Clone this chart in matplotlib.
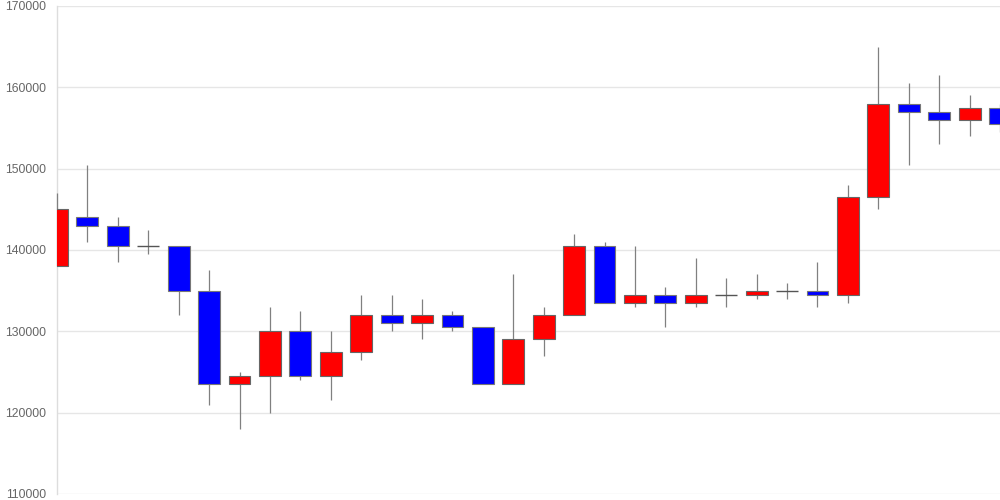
import matplotlib
matplotlib.use("Agg")
import matplotlib.pyplot as plt
import numpy as np

opens  = [138000, 144000, 143000, 140500, 140500, 135000, 123500, 124500, 130000, 124500,
          127500, 132000, 131000, 132000, 130500, 123500, 129000, 132000, 140500, 133500,
          134500, 133500, 134500, 134500, 135000, 135000, 134500, 146500, 158000, 157000,
          156000, 157500]
closes = [145000, 143000, 140500, 140500, 135000, 123500, 124500, 130000, 124500, 127500,
          132000, 131000, 132000, 130500, 123500, 129000, 132000, 140500, 133500, 134500,
          133500, 134500, 134500, 135000, 135000, 134500, 146500, 158000, 157000, 156000,
          157500, 155500]
highs  = [147000, 150500, 144000, 142500, 140500, 137500, 125000, 133000, 132500, 130000,
          134500, 134500, 134000, 132500, 130500, 137000, 133000, 142000, 141000, 140500,
          135500, 139000, 136500, 137000, 136000, 138500, 148000, 165000, 160500, 161500,
          159000, 158000]
lows   = [138000, 141000, 138500, 139500, 132000, 121000, 118000, 120000, 124000, 121500,
          126500, 130000, 129000, 130000, 123500, 123500, 127000, 132000, 133500, 133000,
          130500, 133000, 133000, 134000, 134000, 133000, 133500, 145000, 150500, 153000,
          154000, 154500]
yticks = [110000, 120000, 130000, 140000, 150000, 160000, 170000]

o = np.array(opens); c = np.array(closes); h = np.array(highs); l = np.array(lows)
x = np.arange(len(o))

fig = plt.figure(figsize=(10, 5), dpi=100)
ax = fig.add_axes([0.057, 0.012, 0.943, 0.976])

width = 0.72
ax.vlines(x, l, h, color="#808080", linewidth=0.9, zorder=2.6, clip_on=False)
up = c > o
down = c < o
flat = c == o
ax.bar(x[up], (c - o)[up], bottom=o[up], width=width, color="#ff0000",
       edgecolor="#666666", linewidth=0.8, zorder=3)
ax.bar(x[down], (o - c)[down], bottom=c[down], width=width, color="#0000ff",
       edgecolor="#777777", linewidth=0.8, zorder=3)
ax.hlines(o[flat], x[flat] - width / 2, x[flat] + width / 2, color="#555555",
          linewidth=1.0, zorder=3)

ax.set_xlim(0, len(o) - 1)
ax.set_ylim(110000, 170000)
ax.set_yticks(yticks)
ax.set_yticklabels([str(v) for v in yticks], fontsize=8.8, color="#666666",
                   family=["Liberation Sans", "DejaVu Sans"])
ax.set_xticks([])
ax.tick_params(axis="y", length=0, pad=7.5)
ax.grid(axis="y", color="#e6e6e6", linewidth=1.0, zorder=0)
ax.set_axisbelow(True)
for s in ["top", "right", "bottom"]:
    ax.spines[s].set_visible(False)
ax.spines["left"].set_color("#dddddd")
ax.spines["left"].set_linewidth(1.0)

fig.savefig("out.png", dpi=100)
